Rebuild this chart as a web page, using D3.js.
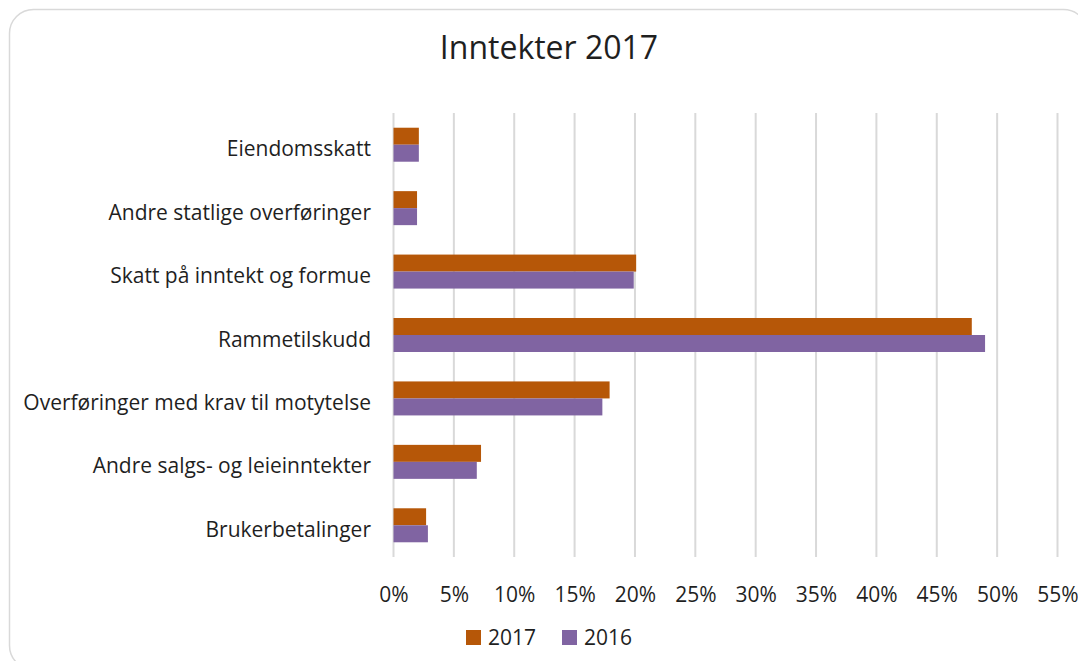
<!DOCTYPE html>
<html>
<head>
<meta charset="utf-8">
<script src="https://cdn.jsdelivr.net/npm/d3@7"></script>
<style>
  body { margin: 0; background: #fff; }
  svg { display: block; }
</style>
</head>
<body>
<svg id="chart" width="1078" height="661"></svg>
<script>
// Inntekter 2017 - grouped horizontal bars
var categories = [
    "Eiendomsskatt",
    "Andre statlige overføringer",
    "Skatt på inntekt og formue",
    "Rammetilskudd",
    "Overføringer med krav til motytelse",
    "Andre salgs- og leieinntekter",
    "Brukerbetalinger"
];
var values2017 = [2.1, 1.95, 20.1, 47.9, 17.9, 7.25, 2.7];
var values2016 = [2.1, 1.95, 19.9, 49.0, 17.3, 6.9, 2.85];
var tickValues = [0, 5, 10, 15, 20, 25, 30, 35, 40, 45, 50, 55];
var seriesNames = ["2017", "2016"];
var seriesColors = ["#B65708", "#8064A2"];

(function(d3) {
    var svg = d3.select("#chart");
    var font = "'Open Sans', sans-serif";

    // frame
    svg.append("rect")
        .attr("x", 9.5).attr("y", 9.5)
        .attr("width", 1078).attr("height", 660)
        .attr("rx", 24).attr("ry", 24)
        .attr("fill", "#fff")
        .attr("stroke", "#d9d9d9")
        .attr("stroke-width", 1.5);

    svg.append("text")
        .attr("x", 549).attr("y", 59)
        .attr("text-anchor", "middle")
        .attr("font-family", font)
        .attr("font-size", 32)
        .attr("fill", "#1f1f1f")
        .text("Inntekter 2017");

    var x = d3.scaleLinear().domain([0, 55]).range([393.5, 1057.5]);
    var y = d3.scaleBand().domain(categories).range([113, 557])
        .paddingInner(0.464).paddingOuter(0.232);
    var ySub = d3.scaleBand().domain(seriesNames).range([0, y.bandwidth()]);

    // gridlines
    svg.append("g").selectAll("line")
        .data(tickValues)
        .enter()
        .append("line")
        .attr("x1", function(d) { return x(d); })
        .attr("x2", function(d) { return x(d); })
        .attr("y1", 113).attr("y2", 557)
        .attr("stroke", "#d9d9d9")
        .attr("stroke-width", 2);

    // x axis labels
    var xAxis = d3.axisBottom(x)
        .tickValues(tickValues)
        .tickSize(0)
        .tickPadding(0)
        .tickFormat(function(d) { return d + "%"; });
    var gx = svg.append("g").attr("transform", "translate(0,587)").call(xAxis);
    gx.select(".domain").remove();
    gx.selectAll("text")
        .attr("font-family", font)
        .attr("font-size", 21)
        .attr("fill", "#1f1f1f");

    // category labels
    var yAxis = d3.axisLeft(y).tickSize(0).tickPadding(0);
    var gy = svg.append("g").attr("transform", "translate(371,0)").call(yAxis);
    gy.select(".domain").remove();
    gy.selectAll("text")
        .attr("font-family", font)
        .attr("font-size", 21)
        .attr("fill", "#1f1f1f")
        .attr("dy", "0.55em");

    // bars
    var rows = categories.map(function(c, i) {
        return { cat: c, vals: [values2017[i], values2016[i]] };
    });
    var groups = svg.append("g").selectAll("g")
        .data(rows)
        .enter()
        .append("g")
        .attr("transform", function(d) { return "translate(0," + y(d.cat) + ")"; });

    groups.selectAll("rect")
        .data(function(d) {
            return d.vals.map(function(v, k) { return { s: seriesNames[k], v: v, k: k }; });
        })
        .enter()
        .append("rect")
        .attr("x", x(0))
        .attr("y", function(d) { return ySub(d.s); })
        .attr("width", function(d) { return x(d.v) - x(0); })
        .attr("height", ySub.bandwidth())
        .attr("fill", function(d) { return seriesColors[d.k]; });

    // legend
    var legendX = [466, 562];
    var legend = svg.append("g").selectAll("g")
        .data(seriesNames)
        .enter()
        .append("g")
        .attr("transform", function(d, i) { return "translate(" + legendX[i] + ",630)"; });
    legend.append("rect")
        .attr("width", 15).attr("height", 15)
        .attr("fill", function(d, i) { return seriesColors[i]; });
    legend.append("text")
        .attr("x", 22).attr("y", 15)
        .attr("font-family", font)
        .attr("font-size", 21)
        .attr("fill", "#1f1f1f")
        .text(function(d) { return d; });

})(d3);
</script>
</body>
</html>
